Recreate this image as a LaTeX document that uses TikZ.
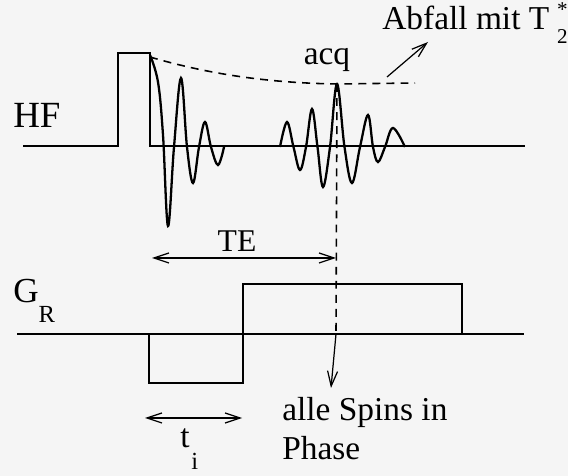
\documentclass[tikz,border=0pt]{standalone}
\usepackage{fontspec}
\setmainfont{Liberation Serif}
\usetikzlibrary{arrows.meta,positioning}
\begin{document}
\begin{tikzpicture}[x=0.2mm,y=-0.2mm,
      font=\fontsize{19}{22}\selectfont,
      axis/.style={line width=1.6pt,line join=miter},
      wave/.style={line width=1.3pt,smooth,tension=0.6},
      env/.style={line width=0.9pt,dash pattern=on 4.5pt off 3.5pt},
      span/.style={line width=0.7pt,{Straight Barb[length=3mm,width=2mm]}-{Straight Barb[length=3mm,width=2mm]}},
      note/.style={line width=0.7pt,-{Straight Barb[length=3mm,width=2mm]}},
      lbl/.style={inner sep=0pt}]
    \fill[black!4] (0,0) rectangle (568,476);
    \useasboundingbox (0,0) rectangle (568,476);
    % HF channel
    \node[lbl,anchor=base west,font=\fontsize{21}{21}\selectfont] (hf) at (13,128) {HF};
    \draw[axis] (23,146) -- (118,146) -- (118,53) -- (150,53) -- (150,146) -- (525,146);
    \draw[wave] plot coordinates {(150,55) (158,82) (163,135) (168,226) (174,147) (181,78) (187,147)
      (193,183) (199,147) (205,122) (211,147) (218,165) (224,147)};
    \draw[wave] plot coordinates {(280,147) (287,122) (293.5,147) (300,170) (306,147) (312,109)
      (317.5,147) (323,187) (330,147) (337,84) (344.5,147) (352,183) (360,147) (368,115)
      (373,147) (378,162) (385,147) (393,128) (405,147)};
    \coordinate (echo) at (337,84);
    \draw[env] (150,57) .. controls (215,76) and (275,83) .. (echo) -- (415,83);
    \node[lbl,anchor=base] (acq) at (327,65) {acq};
    \node[lbl,anchor=base west] (abfall) at (382,30)
      {Abfall mit T\hspace{4.5pt}\rlap{\raisebox{7.5pt}{\fontsize{12}{12}\selectfont *}}\raisebox{-7.5pt}{\fontsize{12}{12}\selectfont 2}};
    \coordinate (tail) at (387,77);
    \coordinate (head) at (428,42);
    \draw[note] (tail) -- (head);
    % echo time
    \coordinate (teL) at (152,258);
    \coordinate (teR) at (336,258);
    \draw[span] (teL) -- (teR);
    \node[lbl,anchor=base,font=\fontsize{18}{18}\selectfont] (te) at (237,252) {TE};
    % read gradient
    \node[lbl,anchor=base west,font=\fontsize{20}{20}\selectfont] (gr) at (13,303)
      {G\raisebox{-11pt}{\fontsize{14}{14}\selectfont R}};
    \draw[axis] (17,334) -- (524,334);
    \draw[axis] (149,334) rectangle (243,383);
    \draw[axis] (243,334) rectangle (462,284);
    \coordinate (rephase) at (336,334);
    \coordinate (spins) at (331,388);
    \draw[env] (echo) -- (rephase);
    \draw[note] (rephase) -- (spins);
    \node[lbl,anchor=base west,align=left] (phase) at (282,459) {alle Spins in\\Phase};
    % dephasing time
    \coordinate (tiL) at (145,418);
    \coordinate (tiR) at (242,418);
    \draw[span] (tiL) -- (tiR);
    \node[lbl,anchor=base west] (ti) at (180,448)
      {t\hspace{1pt}\raisebox{-12pt}{\fontsize{14}{14}\selectfont i}};
  \end{tikzpicture}
\end{document}
